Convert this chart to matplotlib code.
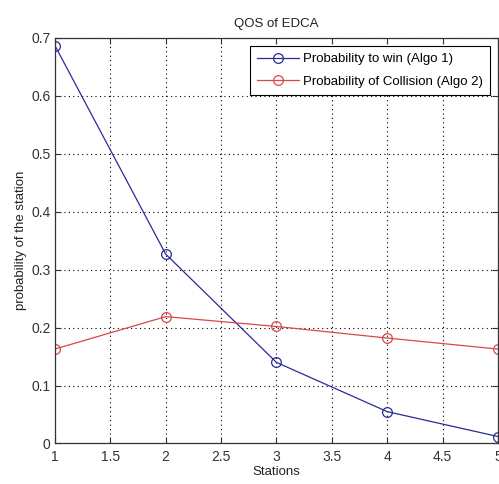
import numpy as np
import matplotlib
matplotlib.use('Agg')
import matplotlib.pyplot as plt

plt.rcParams['font.family'] = ['Liberation Sans', 'DejaVu Sans']

stations = [1, 2, 3, 4, 5]
p_win = [0.687, 0.327, 0.140, 0.055, 0.012]
p_coll = [0.163, 0.219, 0.202, 0.182, 0.163]
xticks = [1, 1.5, 2, 2.5, 3, 3.5, 4, 4.5, 5]
yticks = [0, 0.1, 0.2, 0.3, 0.4, 0.5, 0.6, 0.7]

fig = plt.figure(figsize=(4.99, 4.84), dpi=100)
ax = fig.add_axes([0.110, 0.0837, 0.888, 0.8378])

ax.plot(stations, p_win, color='#2a2a9a', lw=0.9, marker='o', ms=7,
        mfc='none', mec='#2a2a9a', mew=0.9, label='Probability to win (Algo 1)')
ax.plot(stations, p_coll, color='#d84848', lw=0.9, marker='o', ms=7,
        mfc='none', mec='#d84848', mew=0.9, label='Probability of Collision (Algo 2)')

ax.set_xlim(1, 5)
ax.set_ylim(0, 0.7)
ax.set_xticks(xticks)
ax.set_xticklabels(['1', '1.5', '2', '2.5', '3', '3.5', '4', '4.5', '5'])
ax.set_yticks(yticks)
ax.set_yticklabels(['0', '0.1', '0.2', '0.3', '0.4', '0.5', '0.6', '0.7'])
ax.tick_params(direction='in', top=True, right=True, length=4, width=0.8,
               labelsize=10, colors='#333333', pad=3)
ax.tick_params(axis='x', pad=5)
ax.grid(True, color='black', linestyle=(0, (1, 3)), linewidth=0.8)
for s in ax.spines.values():
    s.set_color('#333333')
    s.set_linewidth(0.9)

ax.set_title('QOS of EDCA', fontsize=9.5, color='#222222', pad=8)
ax.set_xlabel('Stations', fontsize=9.5, color='#222222', labelpad=1)
ax.set_ylabel('probability of the station', fontsize=9.5, color='#222222', labelpad=3)

leg = ax.legend(loc='upper right', fontsize=9.5, handlelength=3.2,
                handletextpad=0.3, borderpad=0.55, labelspacing=0.75,
                fancybox=False, framealpha=1, borderaxespad=0.6)
leg.get_frame().set_edgecolor('black')
leg.get_frame().set_linewidth(0.8)

fig.savefig('out.png', dpi=100)
